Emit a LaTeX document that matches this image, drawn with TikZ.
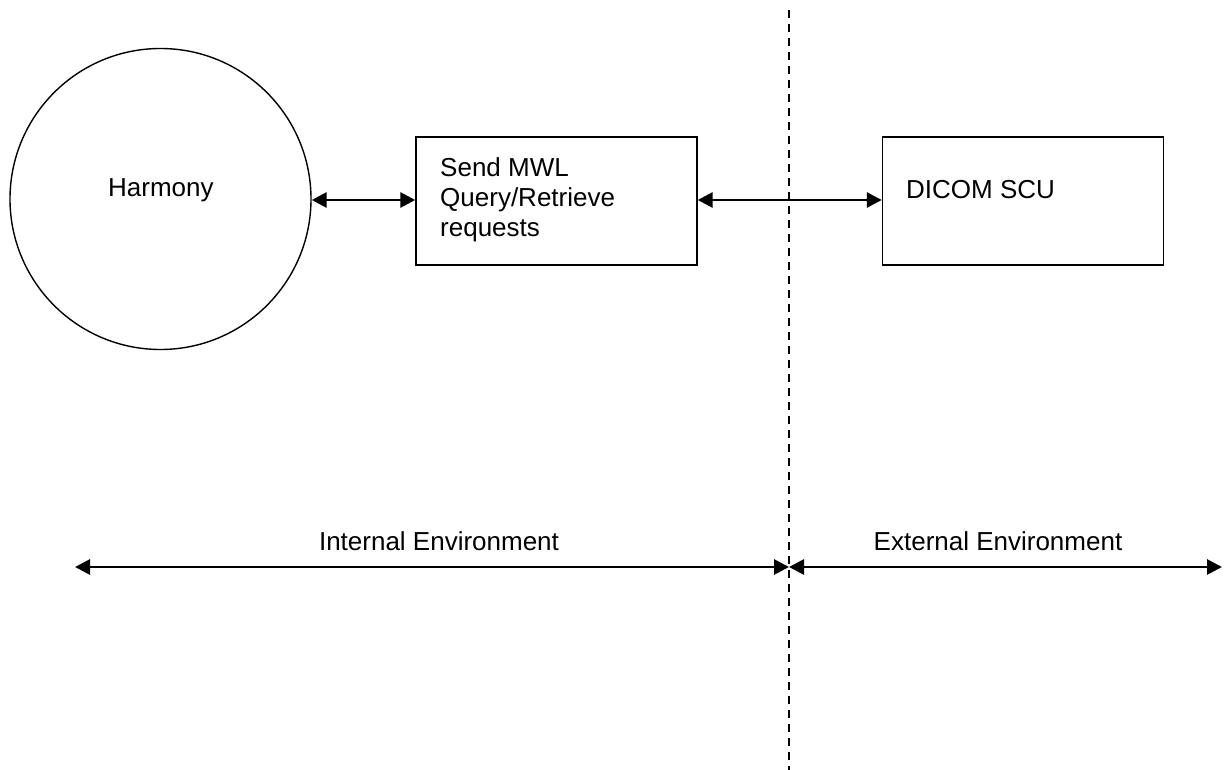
\documentclass[tikz,border=0pt]{standalone}
\usepackage{fontspec}
\setmainfont{Liberation Sans}
\usetikzlibrary{arrows.meta}
\begin{document}
\begin{tikzpicture}[x=1pt,y=-1pt,
  every node/.style={font=\fontsize{26}{30}\selectfont,inner sep=0pt},
  box/.style={draw,line width=1.4pt,minimum width=281pt,minimum height=128pt},
  link/.style={line width=2.8pt,{Triangle[length=15pt,width=15pt]}-{Triangle[length=15pt,width=15pt]}},
  sep/.style={line width=1.4pt,dash pattern=on 8pt off 6pt}]
\useasboundingbox (0,0) rectangle (1224,770);
\node[draw,circle,line width=1.4pt,minimum size=301pt] (harmony) at (160.5,199) {};
\node[anchor=base west] (harmonytxt) at (108,197) {Harmony};
\node[box] (send) at (556.5,201) {};
\node[anchor=north west,align=left] (sendtxt) at (440,157) {Send MWL\\Query/Retrieve\\requests};
\node[box] (dicom) at (1023,201) {};
\node[anchor=base west] (dicomtxt) at (906,198.5) {DICOM SCU};
\coordinate (ha) at (harmony.east |- 0,200);
\coordinate (sa) at (send.west |- 0,200);
\coordinate (sb) at (send.east |- 0,200);
\coordinate (da) at (dicom.west |- 0,200);
\draw[link] (ha) -- (sa);
\draw[link] (sb) -- (da);
\coordinate (top) at (789,10);
\coordinate (bot) at (789,770);
\draw[sep] (top) -- (bot);
\coordinate (l) at (75,567);
\coordinate (m) at (789,567);
\coordinate (r) at (1222,567);
\draw[link] (l) -- (m);
\draw[link] (m) -- (r);
\node[anchor=base] (internal) at (439,550) {Internal Environment};
\node[anchor=base] (external) at (998,550) {External Environment};
\end{tikzpicture}
\end{document}
